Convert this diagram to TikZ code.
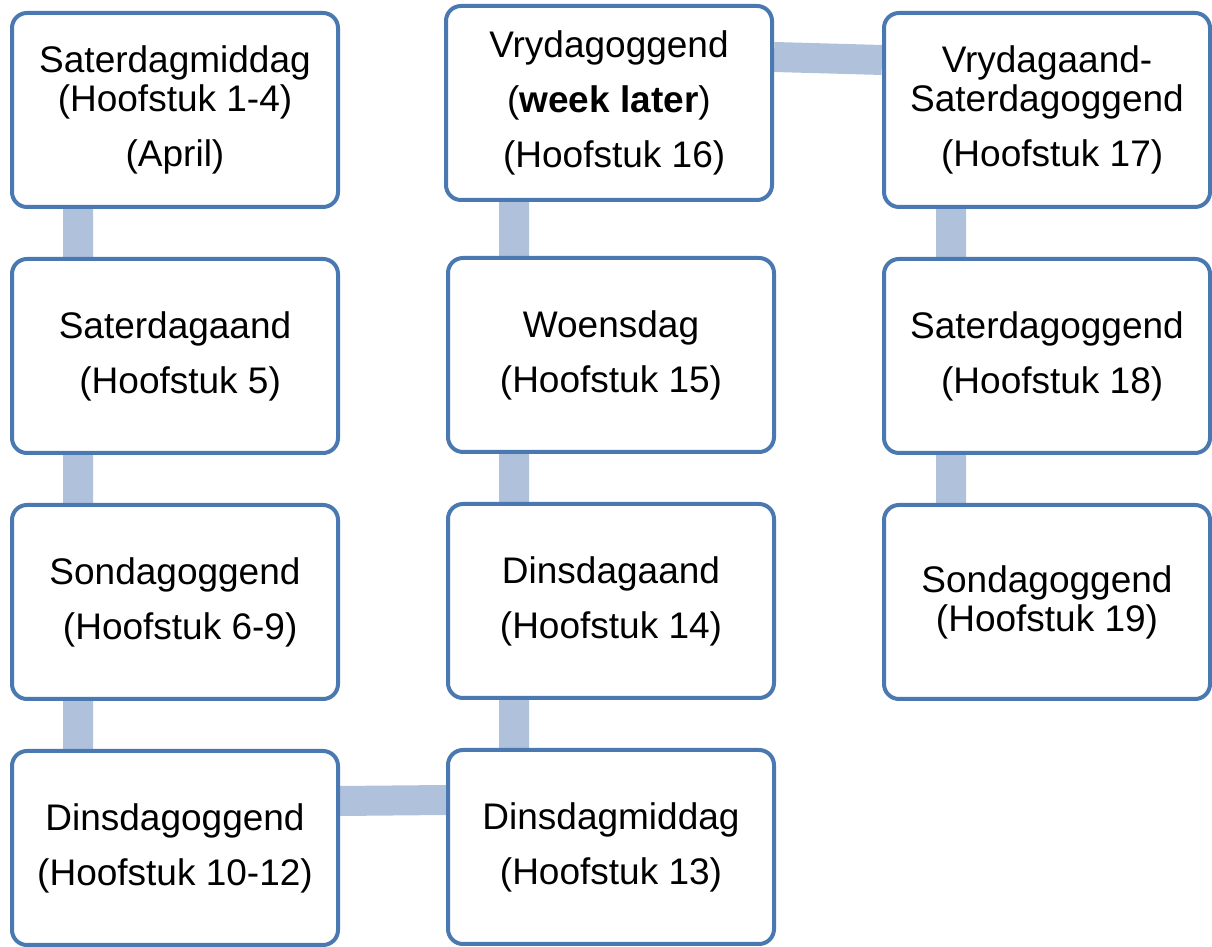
\documentclass[tikz,border=0pt]{standalone}
\usepackage{fontspec}
\setmainfont{Liberation Sans}
\usepackage{tikz}
\usetikzlibrary{positioning,backgrounds}
\definecolor{boxblue}{RGB}{74,120,176}
\definecolor{linkblue}{RGB}{176,193,220}
\tikzset{day node/.style={rectangle,rounded corners=15pt,draw=boxblue,line width=4pt,fill=white,
            minimum width=326pt,minimum height=194pt,inner sep=0pt,align=center,
            font=\fontsize{37}{39}\selectfont},
         link/.style={draw=linkblue,line width=30pt},
            }

\begin{document}
\begin{tikzpicture}[x=1pt,y=1pt]
    \useasboundingbox (0,0) rectangle (1212,947);

    % first column
    \node[day node] (sa1) at (175,837) {Saterdagmiddag\\(Hoofstuk 1-4)\\[16pt](April)};
    \node[day node] (sa2) [below = 48pt of sa1] {Saterdagaand\\[16pt]\hspace*{.28em}(Hoofstuk 5)};
    \node[day node] (so1) [below = 48pt of sa2] {Sondagoggend\\[16pt]\hspace*{.28em}(Hoofstuk 6-9)};
    \node[day node] (di1) [below = 48pt of so1] {Dinsdagoggend\\[16pt](Hoofstuk 10-12)};

    % second column
    \node[day node] (di2) at (611,100) {Dinsdagmiddag\\[16pt](Hoofstuk 13)};
    \node[day node] (di3) [above = 48pt of di2] {Dinsdagaand\\[16pt](Hoofstuk 14)};
    \node[day node] (wo1) [above = 48pt of di3] {Woensdag\\[16pt](Hoofstuk 15)};
    \node[day node] (vr1) at (609,844) {Vrydagoggend\\[16pt](\textbf{week later})\\[16pt]\hspace*{.28em}(Hoofstuk 16)};

    % third column
    \node[day node] (vr2) at (1047,837) {Vrydagaand-\\Saterdagoggend\\[16pt]\hspace*{.28em}(Hoofstuk 17)};
    \node[day node] (sa3) [below = 48pt of vr2] {Saterdagoggend\\[16pt]\hspace*{.28em}(Hoofstuk 18)};
    \node[day node] (so2) [below = 48pt of sa3] {Sondagoggend\\(Hoofstuk 19)};

    \begin{scope}[on background layer]
    \path[link]
    ([xshift=-97pt]sa1.south) -- ([xshift=-97pt]sa2.north)
    ([xshift=-97pt]sa2.south) -- ([xshift=-97pt]so1.north)
    ([xshift=-97pt]so1.south) -- ([xshift=-97pt]di1.north)
    ([yshift=47pt]di1.east) -- ([yshift=47pt]di2.west)
    ([xshift=-97pt]di2.north) -- ([xshift=-97pt]di3.south)
    ([xshift=-97pt]di3.north) -- ([xshift=-97pt]wo1.south)
    ([xshift=-97pt]wo1.north) -- ([xshift=-95pt]vr1.south)
    ([yshift=46pt]vr1.east) -- ([yshift=50pt]vr2.west)
    ([xshift=-96pt]vr2.south) -- ([xshift=-96pt]sa3.north)
    ([xshift=-96pt]sa3.south) -- ([xshift=-96pt]so2.north);
    \end{scope}

\end{tikzpicture}
\end{document}
